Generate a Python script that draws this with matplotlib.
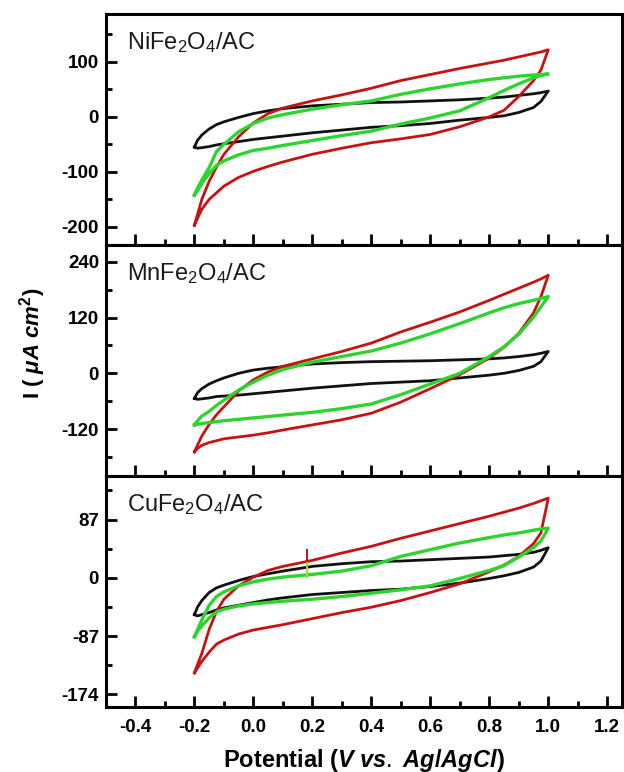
import matplotlib
matplotlib.use('Agg')
import matplotlib.pyplot as plt
from matplotlib.ticker import MultipleLocator, FixedLocator

plt.rcParams['font.family'] = ['Liberation Sans', 'DejaVu Sans']
plt.rcParams['mathtext.fontset'] = 'custom'
plt.rcParams['mathtext.rm'] = 'Liberation Sans'
plt.rcParams['mathtext.it'] = 'Liberation Sans:italic'
plt.rcParams['mathtext.bf'] = 'Liberation Sans:bold'
plt.rcParams['mathtext.bfit'] = 'Liberation Sans:bold:italic'

# ---- data (potential grid, V vs Ag/AgCl) ----
potential = [-0.2, -0.19, -0.175, -0.15, -0.125, -0.1, -0.05, 0.0, 0.05, 0.1,
             0.2, 0.3, 0.4, 0.5, 0.6, 0.7, 0.8, 0.85, 0.9, 0.95, 0.975, 1.0]

# NiFe2O4/AC panel (uA cm^-2): anodic (upper) and cathodic (lower) branches
ni_black_up = [-55, -43, -33, -22, -14, -9, -1, 6, 11, 15, 20, 23, 26, 27, 29, 31, 34, 36, 39, 42, 44, 47]
ni_black_lo = [-55, -57, -56, -54, -51, -49, -45, -41, -38, -35, -29, -24, -19, -16, -12, -6, -1, 2, 8, 17, 28, 47]
ni_red_up = [-197, -178, -150, -117, -91, -68, -36, -11, 6, 16, 29, 40, 52, 66, 77, 88, 98, 103, 109, 115, 118, 122]
ni_red_lo = [-197, -185, -168, -150, -138, -126, -110, -99, -90, -82, -68, -57, -47, -40, -32, -18, 0, 12, 37, 66, 85, 122]
ni_green_up = [-142, -130, -115, -92, -63, -50, -27, -12, -2, 4, 14, 22, 29, 41, 51, 60, 68, 71, 74, 76, 77, 78]
ni_green_lo = [-142, -135, -121, -103, -88, -80, -69, -61, -57, -52, -43, -34, -26, -13, -2, 11, 35, 48, 60, 71, 75, 78]

# MnFe2O4/AC panel
mn_black_up = [-54, -42, -33, -23, -16, -10, 0, 7, 11, 14, 20, 23, 25, 26, 27, 29, 31, 33, 36, 40, 43, 47]
mn_black_lo = [-54, -56, -55, -53, -50, -49, -47, -44, -41, -38, -32, -27, -22, -19, -16, -10, -4, 0, 6, 15, 25, 47]
mn_red_up = [-169, -155, -135, -110, -89, -72, -38, -14, 3, 15, 31, 47, 65, 89, 110, 132, 157, 170, 183, 196, 203, 211]
mn_red_lo = [-169, -162, -155, -149, -145, -141, -137, -133, -128, -122, -111, -100, -86, -62, -33, -3, 33, 56, 86, 130, 165, 211]
mn_green_up = [-111, -103, -92, -82, -69, -58, -36, -19, -4, 8, 24, 36, 48, 65, 85, 107, 130, 141, 150, 157, 161, 165]
mn_green_lo = [-111, -110, -108, -106, -104, -102, -99, -96, -93, -90, -84, -76, -66, -46, -23, 0, 36, 57, 84, 121, 143, 165]

# CuFe2O4/AC panel
cu_black_up = [-55, -44, -34, -22, -15, -11, -4, 2, 6, 10, 17, 21, 24, 25, 27, 29, 31, 33, 35, 38, 41, 45]
cu_black_lo = [-55, -57, -55, -52, -48, -45, -41, -37, -33, -30, -25, -22, -19, -17, -13, -8, -1, 3, 8, 16, 25, 45]
cu_red_up = [-142, -130, -113, -77, -50, -32, -12, 1, 11, 17, 26, 37, 47, 59, 70, 81, 92, 98, 104, 111, 115, 119]
cu_red_lo = [-142, -135, -125, -111, -99, -93, -84, -78, -74, -70, -61, -52, -44, -34, -22, -9, 9, 19, 32, 51, 67, 119]
cu_green_up = [-88, -78, -63, -41, -28, -21, -12, -6, -2, 1, 5, 10, 18, 32, 42, 52, 60, 64, 67, 71, 73, 74]
cu_green_lo = [-88, -80, -72, -60, -51, -47, -42, -39, -37, -35, -32, -28, -23, -18, -12, -1, 11, 18, 31, 45, 55, 74]
cu_spike_potential = 0.18
cu_red_spike = [17, 42]
cu_green_spike = [1, 22]

panel_labels = [r'NiFe$_2$O$_4$/AC', r'MnFe$_2$O$_4$/AC', r'CuFe$_2$O$_4$/AC']
y_major_ticks = [[-200, -100, 0, 100], [-120, 0, 120, 240], [-174, -87, 0, 87]]
y_minor_ticks = [[-150, -50, 50, 150], [-180, -60, 60, 180], [-130.5, -43.5, 43.5, 130.5]]
y_limits = [(-233, 187), (-221, 276), (-193, 152)]
x_ticks = [-0.4, -0.2, 0.0, 0.2, 0.4, 0.6, 0.8, 1.0, 1.2]

panels = [
    (ni_black_up, ni_black_lo, ni_red_up, ni_red_lo, ni_green_up, ni_green_lo),
    (mn_black_up, mn_black_lo, mn_red_up, mn_red_lo, mn_green_up, mn_green_lo),
    (cu_black_up, cu_black_lo, cu_red_up, cu_red_lo, cu_green_up, cu_green_lo),
]

BLACK = '#111111'
RED = '#c81212'
GREEN = '#2ed42e'

fig = plt.figure(figsize=(6.24, 7.72), dpi=100)
left, right = 106 / 624, 622 / 624
top_px, h_px = 14, 231
axes = []
for i in range(3):
    y0 = 1 - (top_px + (i + 1) * h_px) / 772
    ax = fig.add_axes([left, y0, right - left, h_px / 772])
    axes.append(ax)


def loop(up, lo):
    xs = list(potential) + list(potential[::-1])
    ys = list(up) + list(lo[::-1])
    return xs, ys


for i, ax in enumerate(axes):
    bu, bl, ru, rl, gu, gl = panels[i]
    for (up, lo, c, lw) in [(bu, bl, BLACK, 2.0), (ru, rl, RED, 2.0), (gu, gl, GREEN, 2.4)]:
        xs, ys = loop(up, lo)
        ax.plot(xs, ys, color=c, lw=lw, solid_joinstyle='round')
    if i == 2:
        ax.plot([cu_spike_potential, cu_spike_potential], cu_red_spike, color=RED, lw=1.4)
        ax.plot([cu_spike_potential, cu_spike_potential], cu_green_spike, color='#9adb2a', lw=1.4)

    ax.set_xlim(-0.5, 1.25)
    ax.set_ylim(*y_limits[i])
    ax.xaxis.set_major_locator(FixedLocator(x_ticks))
    ax.xaxis.set_minor_locator(MultipleLocator(0.1))
    ax.yaxis.set_major_locator(FixedLocator(y_major_ticks[i]))
    ax.yaxis.set_minor_locator(FixedLocator(y_minor_ticks[i]))
    ax.tick_params(which='both', direction='in', top=False, right=False, width=2.0)
    ax.tick_params(which='major', length=8)
    ax.tick_params(which='minor', length=4)
    ax.tick_params(axis='y', pad=5)
    ax.tick_params(axis='x', pad=9)
    ax.set_yticklabels([str(v) for v in y_major_ticks[i]], fontweight='bold', fontsize=13.5)
    if i < 2:
        ax.set_xticklabels([])
    else:
        ax.set_xticklabels(['%.1f' % v for v in x_ticks], fontweight='bold', fontsize=13.5)
    for s in ax.spines.values():
        s.set_linewidth(2.2)
    ax.text(0.04, 0.875, panel_labels[i], transform=ax.transAxes, fontsize=17,
            color='#1a1a1a', va='center', ha='left')

fig.text(364 / 624, 1 - 760 / 772, r'$\mathbf{Potential\ (}\boldsymbol{V\ vs.\ Ag/AgCl}\mathbf{)}$',
         ha='center', va='center', fontsize=17)
fig.text(33 / 624, 1 - 343 / 772, r'$\mathbf{I\ (\ }\boldsymbol{\mu A\ cm}^{\mathbf{2}}\mathbf{)}$',
         ha='center', va='center', rotation=90, fontsize=16)

fig.savefig('out.png', dpi=100)
